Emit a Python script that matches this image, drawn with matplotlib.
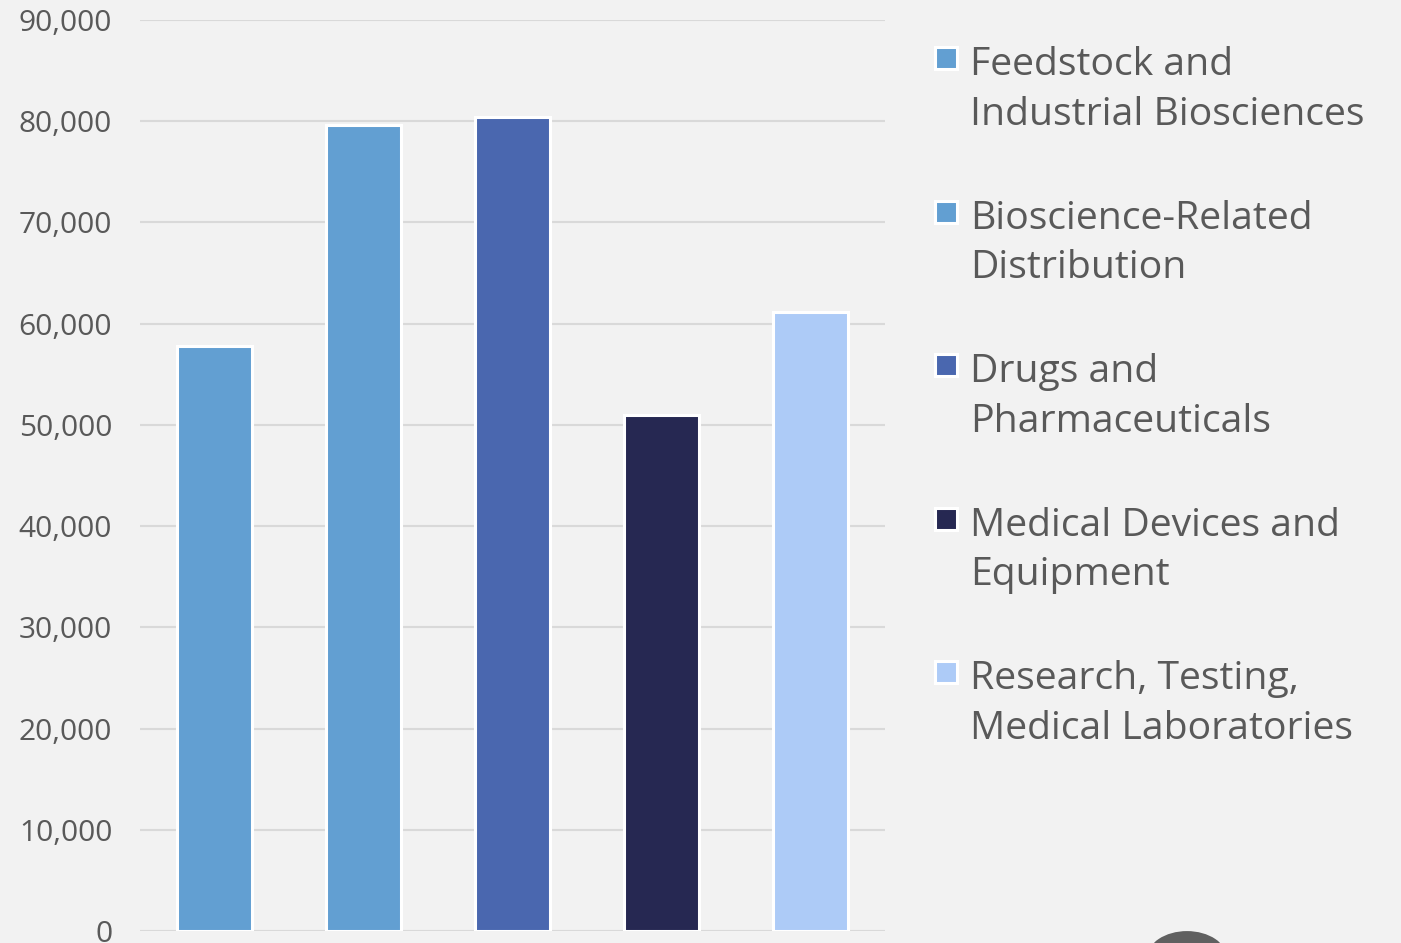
import matplotlib.pyplot as plt
from matplotlib.patches import Rectangle, Circle
from matplotlib.ticker import FuncFormatter

categories = ["Feedstock and\nIndustrial Biosciences",
              "Bioscience-Related\nDistribution",
              "Drugs and\nPharmaceuticals",
              "Medical Devices and\nEquipment",
              "Research, Testing,\nMedical Laboratories"]
values = [57800, 79600, 80400, 51000, 61200]
colors = ["#629fd2", "#629fd2", "#4a67af", "#262852", "#adcbf7"]
yticks = list(range(0, 90001, 10000))

bg = "#f2f2f2"
txt = "#595959"
plt.rcParams['font.family'] = ['Open Sans', 'DejaVu Sans']

W, H = 1401, 943
fig = plt.figure(figsize=(W / 100, H / 100), dpi=100, facecolor=bg)
ax = fig.add_axes([140 / W, 1 - 931 / H, 745 / W, 911 / H], facecolor=bg)

x = list(range(len(values)))
ax.bar(x, values, width=0.5, color=colors, edgecolor="white", linewidth=2.2, zorder=3)

ax.set_xlim(-0.5, len(values) - 0.5)
ax.set_ylim(0, 90000)
ax.set_yticks(yticks)
ax.yaxis.set_major_formatter(FuncFormatter(lambda v, p: f"{int(v):,}"))
ax.set_xticks([])
ax.grid(axis="y", color="#d9d9d9", linewidth=1.5, zorder=0)
ax.tick_params(axis="y", length=0, pad=20, labelsize=21.5, labelcolor=txt)
for s in ax.spines.values():
    s.set_visible(False)

# legend drawn by hand so the squares line up with the first text line
# (va="baseline" on a two-line text sits on the second line's baseline)
for i, (lab, c) in enumerate(zip(categories, colors)):
    cy = 58 + i * 153.5
    sq = 22
    fig.patches.append(Rectangle(((946 - sq / 2) / W, 1 - (cy + sq / 2) / H), sq / W, sq / H,
                                 transform=fig.transFigure, facecolor=c,
                                 edgecolor="white", linewidth=2.2))
    fig.text(970 / W, 1 - (cy + 67) / H, lab, ha="left", va="baseline",
             fontsize=28.2, color=txt, linespacing=1.4)

# dark round button partly visible at the bottom
fig.patches.append(Circle((1187 / W, 1 - 958 / H), 40 / W, transform=fig.transFigure,
                          facecolor="#606060", edgecolor="none"))

fig.savefig("out.png", dpi=100, facecolor=bg)
